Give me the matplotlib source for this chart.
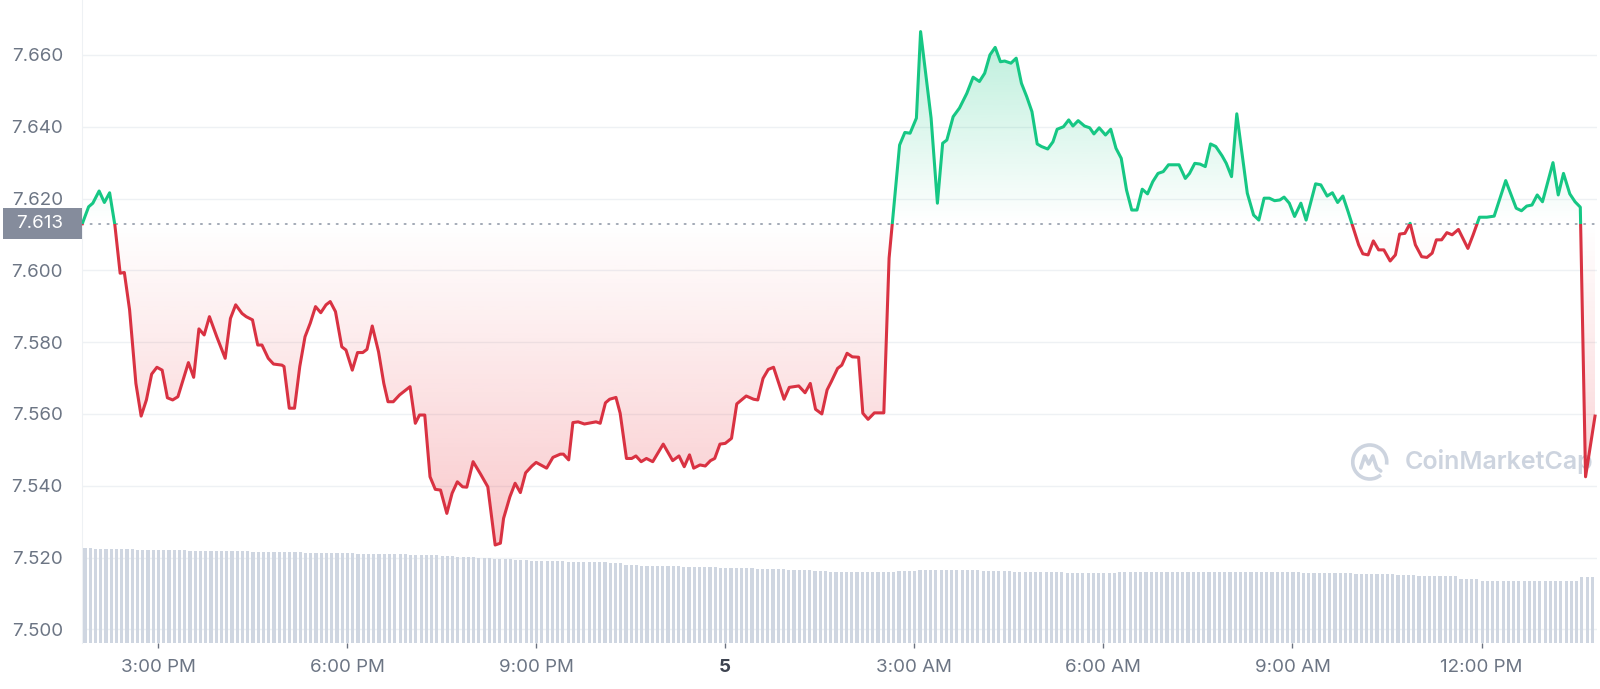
import numpy as np
import pandas as pd
import matplotlib
matplotlib.use('Agg')
import matplotlib.pyplot as plt
from matplotlib.colors import LinearSegmentedColormap, to_rgb
from matplotlib.patches import Rectangle, Arc
from matplotlib.path import Path
from matplotlib.transforms import blended_transform_factory
import matplotlib.dates as mdates

plt.rcParams['font.family'] = ['Inter', 'DejaVu Sans']

# data
day0 = '2022-05-04'
open_price = 7.613

times = [
    '13:48', '13:54', '13:58', '14:04', '14:09', '14:14', '14:19', '14:24', '14:28', '14:33',
    '14:39', '14:44', '14:49', '14:54', '14:59', '15:04', '15:09', '15:14', '15:19', '15:29',
    '15:34', '15:39', '15:44', '15:49', '15:56', '16:04', '16:09', '16:14', '16:20', '16:24',
    '16:30', '16:35', '16:39', '16:45', '16:50', '16:58', '17:00', '17:05', '17:10', '17:15',
    '17:20', '17:25', '17:30', '17:35', '17:40', '17:44', '17:49', '17:55', '17:59', '18:05',
    '18:10', '18:15', '18:19', '18:24', '18:30', '18:35', '18:39', '18:44', '18:50', '19:00',
    '19:05', '19:09', '19:14', '19:19', '19:24', '19:29', '19:35', '19:40', '19:45', '19:50',
    '19:54', '20:00', '20:07', '20:14', '20:21', '20:26', '20:29', '20:35', '20:40', '20:45',
    '20:50', '20:56', '21:00', '21:10', '21:16', '21:23', '21:26', '21:31', '21:35', '21:40',
    '21:46', '21:53', '21:57', '22:01', '22:06', '22:10', '22:16', '22:20', '22:26', '22:31',
    '22:35', '22:40', '22:45', '22:51', '23:01', '23:10', '23:16', '23:21', '23:26', '23:30',
    '23:36', '23:41', '23:46', '23:50', '23:55', '00:00', '00:06', '00:11', '00:20', '00:27',
    '00:31', '00:36', '00:41', '00:46', '00:56', '01:01', '01:10', '01:16', '01:21', '01:26',
    '01:32', '01:37', '01:41', '01:47', '01:51', '01:56', '02:01', '02:07', '02:11', '02:16',
    '02:22', '02:31', '02:36', '02:46', '02:51', '02:56', '03:02', '03:06', '03:16', '03:22',
    '03:27', '03:31', '03:37', '03:43', '03:50', '03:56', '04:02', '04:07', '04:12', '04:17',
    '04:22', '04:26', '04:32', '04:37', '04:42', '04:47', '04:52', '04:57', '05:01', '05:07',
    '05:12', '05:16', '05:22', '05:27', '05:31', '05:36', '05:42', '05:47', '05:51', '05:56',
    '06:02', '06:07', '06:12', '06:17', '06:22', '06:27', '06:32', '06:37', '06:42', '06:47',
    '06:52', '06:57', '07:02', '07:07', '07:12', '07:18', '07:22', '07:27', '07:32', '07:37',
    '07:42', '07:47', '07:53', '07:57', '08:02', '08:07', '08:17', '08:23', '08:28', '08:33',
    '08:38', '08:43', '08:48', '08:52', '08:57', '09:02', '09:08', '09:13', '09:22', '09:27',
    '09:33', '09:38', '09:43', '09:48', '09:53', '09:58', '10:03', '10:07', '10:12', '10:17',
    '10:22', '10:27', '10:33', '10:38', '10:42', '10:47', '10:52', '10:57', '11:03', '11:08',
    '11:13', '11:17', '11:22', '11:27', '11:32', '11:38', '11:47', '11:52', '11:58', '12:05',
    '12:12', '12:23', '12:33', '12:38', '12:43', '12:48', '12:53', '12:58', '13:08', '13:13',
    '13:18', '13:24', '13:29', '13:34', '13:39', '13:48',
]

prices = [
    7.6130, 7.6177, 7.6187, 7.6221, 7.6189, 7.6216, 7.6126, 7.5992, 7.5994, 7.5890,
    7.5685, 7.5594, 7.5639, 7.5711, 7.5730, 7.5722, 7.5645, 7.5639, 7.5648, 7.5743,
    7.5702, 7.5837, 7.5820, 7.5871, 7.5815, 7.5755, 7.5866, 7.5904, 7.5880, 7.5871,
    7.5862, 7.5792, 7.5792, 7.5755, 7.5739, 7.5736, 7.5732, 7.5616, 7.5616, 7.5732,
    7.5815, 7.5853, 7.5899, 7.5882, 7.5904, 7.5913, 7.5885, 7.5787, 7.5778, 7.5722,
    7.5771, 7.5771, 7.5780, 7.5845, 7.5773, 7.5685, 7.5634, 7.5634, 7.5653, 7.5676,
    7.5574, 7.5597, 7.5597, 7.5425, 7.5390, 7.5388, 7.5323, 7.5379, 7.5411, 7.5397,
    7.5396, 7.5467, 7.5433, 7.5397, 7.5235, 7.5240, 7.5309, 7.5369, 7.5407, 7.5381,
    7.5436, 7.5455, 7.5465, 7.5449, 7.5479, 7.5488, 7.5488, 7.5472, 7.5576, 7.5578,
    7.5572, 7.5576, 7.5578, 7.5574, 7.5631, 7.5641, 7.5646, 7.5602, 7.5476, 7.5476,
    7.5483, 7.5467, 7.5476, 7.5467, 7.5516, 7.5470, 7.5483, 7.5453, 7.5486, 7.5449,
    7.5458, 7.5455, 7.5470, 7.5476, 7.5516, 7.5518, 7.5532, 7.5628, 7.5650, 7.5641,
    7.5639, 7.5699, 7.5724, 7.5730, 7.5641, 7.5674, 7.5678, 7.5659, 7.5685, 7.5613,
    7.5600, 7.5667, 7.5690, 7.5727, 7.5736, 7.5769, 7.5759, 7.5758, 7.5602, 7.5585,
    7.5603, 7.5603, 7.6034, 7.6349, 7.6384, 7.6382, 7.6424, 7.6665, 7.6424, 7.6187,
    7.6354, 7.6363, 7.6428, 7.6452, 7.6493, 7.6538, 7.6526, 7.6549, 7.6600, 7.6621,
    7.6581, 7.6583, 7.6577, 7.6591, 7.6521, 7.6484, 7.6442, 7.6352, 7.6345, 7.6338,
    7.6358, 7.6393, 7.6400, 7.6419, 7.6402, 7.6417, 7.6402, 7.6397, 7.6380, 7.6397,
    7.6377, 7.6393, 7.6340, 7.6312, 7.6224, 7.6168, 7.6168, 7.6226, 7.6213, 7.6247,
    7.6270, 7.6275, 7.6294, 7.6294, 7.6294, 7.6256, 7.6270, 7.6298, 7.6296, 7.6289,
    7.6352, 7.6345, 7.6319, 7.6298, 7.6261, 7.6436, 7.6215, 7.6154, 7.6140, 7.6201,
    7.6201, 7.6194, 7.6196, 7.6204, 7.6187, 7.6150, 7.6187, 7.6140, 7.6241, 7.6238,
    7.6207, 7.6216, 7.6189, 7.6207, 7.6163, 7.6117, 7.6071, 7.6046, 7.6043, 7.6082,
    7.6057, 7.6057, 7.6026, 7.6043, 7.6101, 7.6103, 7.6131, 7.6071, 7.6038, 7.6036,
    7.6048, 7.6085, 7.6085, 7.6105, 7.6099, 7.6114, 7.6061, 7.6099, 7.6148, 7.6148,
    7.6151, 7.6250, 7.6173, 7.6166, 7.6179, 7.6182, 7.6210, 7.6191, 7.6300, 7.6210,
    7.6270, 7.6213, 7.6191, 7.6176, 7.5425, 7.5594,
]

# volume bars, one every 5 minutes (relative height), stored as runs
vol_start = '13:50:30'
vol_levels = [95, 94, 93, 92, 91, 90, 89, 88, 87, 86, 85, 84, 83, 82, 81, 80, 78, 77,
              76, 75, 74, 73, 72, 71, 72, 73, 72, 71, 70, 71, 70, 69, 68, 67, 64, 62, 66]
vol_counts = [2, 8, 10, 12, 10, 10, 10, 6, 3, 4, 3, 4, 3, 7, 8, 3, 3, 8,
              7, 7, 6, 5, 3, 13, 4, 12, 6, 10, 10, 35, 10, 8, 4, 8, 4, 19, 3]

tick_times = ['15:00', '18:00', '21:00', '00:00', '03:00', '06:00', '09:00', '12:00']
tick_labels = ['3:00 PM', '6:00 PM', '9:00 PM', '5', '3:00 AM', '6:00 AM', '9:00 AM', '12:00 PM']
y_ticks = [7.500, 7.520, 7.540, 7.560, 7.580, 7.600, 7.620, 7.640, 7.660]

green = '#16c784'
red = '#d93242'
label_gray = '#6c7584'


def to_dates(hhmm):
    # clock times -> datetimes, rolling to the next day when the clock wraps
    day = pd.Timestamp(day0)
    out, prev = [], None
    for s in hhmm:
        t = pd.Timestamp(f'{day.date()} {s}')
        if prev is not None and t < prev:
            day = day + pd.Timedelta(days=1)
            t = t + pd.Timedelta(days=1)
        out.append(t)
        prev = t
    return mdates.date2num(pd.DatetimeIndex(out).to_pydatetime())


t_num = to_dates(times)
p = np.array(prices)
tick_num = to_dates(tick_times)
vol = np.repeat(vol_levels, vol_counts)
vol_t = mdates.date2num(pd.date_range(f'{day0} {vol_start}', periods=len(vol),
                                      freq='5min').to_pydatetime())

x0 = mdates.date2num(pd.Timestamp(f'{day0} 13:47:42').to_pydatetime())
x1 = mdates.date2num((pd.Timestamp(f'{day0} 13:49:54') + pd.Timedelta(days=1)).to_pydatetime())
y0, y1 = 7.4962, 7.6753

fig = plt.figure(figsize=(16, 6.89), dpi=100)
ax = fig.add_axes([82 / 1600, 46 / 689, 1515 / 1600, 643 / 689])

# gradient fills above / below the opening price
grad = np.linspace(0, 1, 256).reshape(-1, 1)
up_cmap = LinearSegmentedColormap.from_list('up', [(*to_rgb(green), 0.0), (*to_rgb(green), 0.34)])
dn_cmap = LinearSegmentedColormap.from_list('dn', [(*to_rgb('#ea3943'), 0.36),
                                                   (*to_rgb('#ea3943'), 0.0)])

fb_up = ax.fill_between(t_num, p, open_price, where=p >= open_price, interpolate=True,
                        facecolor='none', edgecolor='none')
fb_dn = ax.fill_between(t_num, p, open_price, where=p <= open_price, interpolate=True,
                        facecolor='none', edgecolor='none')
im_up = ax.imshow(grad, cmap=up_cmap, extent=[x0, x1, open_price, y1], origin='lower',
                  aspect='auto', zorder=1, interpolation='bilinear')
im_dn = ax.imshow(grad, cmap=dn_cmap, extent=[x0, x1, y0, open_price], origin='lower',
                  aspect='auto', zorder=1, interpolation='bilinear')
im_up.set_clip_path(Path.make_compound_path(*fb_up.get_paths()), ax.transData)
im_dn.set_clip_path(Path.make_compound_path(*fb_dn.get_paths()), ax.transData)

# price line, green above the open and red below
up_line, = ax.plot(t_num, p, color=green, lw=2.2, zorder=3, solid_joinstyle='round')
dn_line, = ax.plot(t_num, p, color=red, lw=2.2, zorder=3, solid_joinstyle='round')
up_line.set_clip_path(Rectangle((x0, open_price), x1 - x0, 1.0, transform=ax.transData))
dn_line.set_clip_path(Rectangle((x0, open_price - 1.0), x1 - x0, 1.0, transform=ax.transData))

ax.axhline(open_price, color='#9ba3b0', lw=1.3, linestyle=(0, (0.7, 4.0)),
           dash_capstyle='round', zorder=2)

ax.set_xlim(x0, x1)
ax.set_ylim(y0, y1)
ax.set_yticks(y_ticks)
ax.set_yticklabels([f'{v:.3f}' for v in y_ticks])
ax.grid(axis='y', color='#eef1f4', lw=1)
ax.set_axisbelow(True)
ax.tick_params(axis='y', length=0, pad=13.7, labelsize=13.5, labelcolor=label_gray)
ax.set_xticks(tick_num)
ax.set_xticklabels(tick_labels)
ax.tick_params(axis='x', length=3.5, width=1, color='#6b7280', pad=8,
               labelsize=13.5, labelcolor=label_gray)
day_lab = ax.get_xticklabels()[3]
day_lab.set_fontweight('bold')
day_lab.set_color('#3d4350')
for s in ['top', 'right', 'bottom']:
    ax.spines[s].set_visible(False)
ax.spines['left'].set_color('#eef1f4')

# open price tag on the y axis
blend = blended_transform_factory(fig.transFigure, ax.transData)
fig.add_artist(Rectangle((3 / 1600, open_price - 0.00432), 79 / 1600, 0.00864,
                         transform=blend, facecolor='#858c9c', edgecolor='none'))
fig.text(63 / 1600, open_price, f'{open_price:.3f}', transform=blend, ha='right',
         va='center', color='white', fontsize=13.5)

# watermark
wm = '#cdd4df'
cx, cy = 0.850, 0.2815
ax.add_patch(Arc((cx, cy), 34 / 1515, 34 / 643, theta1=-20, theta2=290,
                 transform=ax.transAxes, color=wm, lw=2.6, zorder=0))
mx = np.array([-9, -5, -1, 3, 7, 11]) / 1515
my = np.array([-6, 6, -2, 6, -6, -9]) / 643
ax.plot(cx + mx, cy + my, transform=ax.transAxes, color=wm, lw=2.6, zorder=0,
        solid_joinstyle='round', solid_capstyle='round')
ax.text(0.873, cy, 'CoinMarketCap', transform=ax.transAxes, fontsize=18, color=wm,
        fontweight='semibold', ha='left', va='center', zorder=0)

# volume bars on a hidden twin axis
ax2 = ax.twinx()
ax2.bar(vol_t, vol, width=3 / 1440, color='#cfd6e1', align='center')
ax2.set_ylim(0, 643)
ax2.set_xlim(x0, x1)
ax2.axis('off')

fig.savefig('out.png', dpi=100)
